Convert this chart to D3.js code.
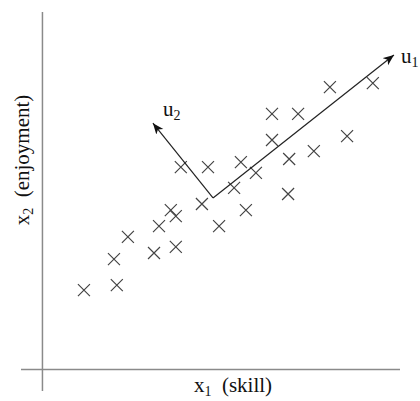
<!DOCTYPE html>
<html>
<head>
<meta charset="utf-8">
<script src="https://cdn.jsdelivr.net/npm/d3@7"></script>
<style>
  html, body { margin: 0; padding: 0; background: #fff; }
  svg { display: block; }
  text { font-family: "Liberation Serif", "DejaVu Serif", serif; fill: #111; }
</style>
</head>
<body>
<svg id="chart" width="420" height="401"></svg>
<script>
// Data (x1 = skill, x2 = enjoyment)
const skill = [1.16, 2.08, 2.00, 2.39, 3.12, 3.26, 3.73, 3.59, 3.73, 3.87, 4.63, 4.46, 4.94,
               5.36, 5.55, 5.69, 5.97, 6.42, 6.42, 7.15, 6.90, 6.87, 7.59, 8.04, 8.52, 9.24];
const enjoyment = [2.22, 2.36, 3.09, 3.71, 3.26, 4.01, 3.43, 4.46, 4.29, 5.66, 5.66, 4.63, 4.01,
                   5.08, 5.80, 4.46, 5.50, 7.15, 6.42, 7.15, 5.89, 4.91, 6.11, 7.90, 6.53, 8.01];
// Principal directions: origin and arrow tips
const vecOrigin = [4.77, 4.80];
const vecNames = ["u1", "u2"];
const vecTipX = [9.83, 3.09];
const vecTipY = [8.80, 6.89];

const svg = d3.select("#chart");
const x = d3.scaleLinear().domain([-0.6, 10]).range([21, 400]);
const y = d3.scaleLinear().domain([-0.6, 10]).range([391, 12]);

// axes
const axisColor = "#8a8a8a";
svg.append("line").attr("x1", x(-0.6)).attr("x2", x(10)).attr("y1", y(0)).attr("y2", y(0))
  .attr("stroke", axisColor).attr("stroke-width", 1.5);
svg.append("line").attr("x1", x(0)).attr("x2", x(0)).attr("y1", y(-0.6)).attr("y2", y(10))
  .attr("stroke", axisColor).attr("stroke-width", 1.5);

// axis labels
const xl = svg.append("text").attr("x", 233).attr("y", 392).attr("text-anchor", "middle")
  .attr("font-size", 21);
xl.append("tspan").text("x");
xl.append("tspan").attr("font-size", 14).attr("dy", 4).text("1");
xl.append("tspan").attr("dy", -4).text("\u00a0 (skill)");

const yl = svg.append("text").attr("transform", "translate(29,160) rotate(-90)")
  .attr("text-anchor", "middle").attr("font-size", 21);
yl.append("tspan").text("x");
yl.append("tspan").attr("font-size", 14).attr("dy", 4).text("2");
yl.append("tspan").attr("dy", -4).text("\u00a0 (enjoyment)");

// points as crosses
const s = 6;
const pts = skill.map((v, i) => [v, enjoyment[i]]);
const g = svg.append("g").attr("stroke", "#444").attr("stroke-width", 1.2);
pts.forEach(p => {
  const cx = x(p[0]), cy = y(p[1]);
  g.append("path").attr("d", `M${cx - s},${cy - s}L${cx + s},${cy + s}M${cx - s},${cy + s}L${cx + s},${cy - s}`);
});

// arrow marker
svg.append("defs").append("marker").attr("id", "arr")
  .attr("viewBox", "0 -5 12 10").attr("refX", 11).attr("refY", 0)
  .attr("markerWidth", 12).attr("markerHeight", 10).attr("markerUnits", "userSpaceOnUse")
  .attr("orient", "auto")
  .append("path").attr("d", "M0,-4.5L11,0L0,4.5L3,0Z").attr("fill", "#111");

vecNames.forEach((n, i) => {
  svg.append("line").attr("x1", x(vecOrigin[0])).attr("y1", y(vecOrigin[1]))
    .attr("x2", x(vecTipX[i])).attr("y2", y(vecTipY[i]))
    .attr("stroke", "#222").attr("stroke-width", 1.2).attr("marker-end", "url(#arr)");
});

// vector labels
function vecLabel(px, py, sub) {
  const t = svg.append("text").attr("x", px).attr("y", py).attr("font-size", 21);
  t.append("tspan").text("u");
  t.append("tspan").attr("font-size", 14).attr("dy", 4).text(sub);
}
vecLabel(x(vecTipX[0]) + 7, y(vecTipY[0]) + 8, "1");
vecLabel(x(vecTipX[1]) + 10, y(vecTipY[1]) - 7, "2");
</script>
</body>
</html>
